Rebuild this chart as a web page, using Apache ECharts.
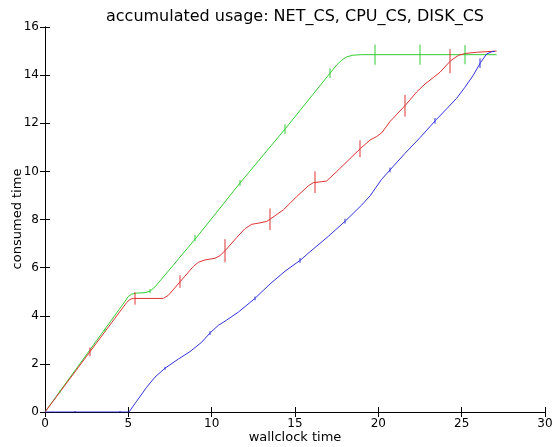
<!DOCTYPE html>
<html>
<head>
<meta charset="utf-8">
<script src="https://cdn.jsdelivr.net/npm/echarts@6/dist/echarts.min.js"></script>
<style>html,body{margin:0;padding:0;background:#fff}#c{width:553px;height:447px}</style>
</head>
<body>
<div id="c"></div>
<script>
const xTicks = [0, 5, 10, 15, 20, 25, 30];
const yTicks = [0, 2, 4, 6, 8, 10, 12, 14, 16];

const netLine = [[0,0],[4.8,4.6],[5.0,4.8],[5.2,4.9],[5.5,4.94],[6.0,4.96],[6.3,5.02],[6.6,5.2],[9.1,7.26],[11.74,9.55],[14.44,11.79],[17.1,14.08],[17.5,14.42],[17.8,14.62],[18.1,14.76],[18.5,14.83],[19.0,14.85],[27.1,14.85]];
const cpuLine = [[0,0],[4.9,4.55],[5.1,4.68],[5.3,4.72],[7.1,4.72],[7.4,4.85],[8.14,5.44],[8.9,6.05],[9.2,6.22],[9.6,6.32],[10.2,6.39],[10.5,6.5],[10.84,6.73],[11.5,7.25],[12.0,7.62],[12.4,7.8],[12.9,7.86],[13.3,7.92],[13.52,8.02],[14.3,8.4],[15.1,8.95],[15.8,9.4],[16.1,9.53],[16.6,9.57],[16.9,9.6],[17.5,9.99],[18.94,10.96],[19.5,11.3],[19.9,11.45],[20.2,11.6],[20.7,12.07],[21.64,12.76],[22.3,13.3],[22.8,13.63],[23.3,13.9],[23.7,14.12],[24.34,14.6],[24.8,14.82],[25.2,14.9],[25.9,14.95],[27.1,15.0]];
const diskLine = [[0,0],[5.04,0],[5.5,0.45],[6.1,1.03],[6.6,1.45],[7.2,1.82],[8.0,2.2],[8.7,2.51],[9.4,2.9],[9.94,3.31],[10.4,3.6],[10.9,3.82],[11.6,4.15],[12.56,4.7],[13.5,5.32],[14.4,5.85],[15.34,6.32],[15.9,6.66],[17.0,7.3],[18.04,7.95],[19.0,8.6],[19.5,8.98],[20.2,9.67],[20.74,10.09],[21.6,10.75],[22.5,11.4],[23.46,12.14],[24.1,12.6],[24.7,13.04],[25.2,13.5],[25.7,14.0],[26.14,14.53],[26.5,14.88],[26.8,14.97],[27.0,14.99]];

// [x, y, halfError]
const netErr = [[0.9,0.85,0.05],[3.6,3.4,0.06],[6.3,5.03,0.08],[9.0,7.23,0.13],[11.7,9.52,0.12],[14.4,11.76,0.2],[17.1,14.08,0.2],[19.8,14.85,0.42],[22.5,14.85,0.42],[25.2,14.85,0.4]];
const cpuErr = [[2.7,2.5,0.18],[5.4,4.72,0.26],[8.1,5.42,0.26],[10.8,6.7,0.48],[13.5,8.01,0.45],[16.2,9.55,0.45],[18.9,10.94,0.35],[21.6,12.73,0.45],[24.3,14.58,0.5]];
const diskErr = [[1.8,0,0.04],[4.5,0,0.04],[7.2,1.82,0.06],[9.9,3.28,0.08],[12.6,4.72,0.08],[15.3,6.3,0.1],[18.0,7.93,0.1],[20.7,10.06,0.1],[23.4,12.1,0.12],[26.1,14.5,0.2]];

const GREEN = '#33cc33', RED = '#dd3333', BLUE = '#3333dd';
const FONT = 'DejaVu Sans';

function lineSeries(data, color) {
  return { type: 'line', data: data, showSymbol: false, smooth: false,
    lineStyle: { color: color, width: 1 }, itemStyle: { color: color }, silent: true, z: 2 };
}
function errSeries(data, color) {
  return { type: 'custom', data: data, z: 3, silent: true, clip: true,
    renderItem: function (params, api) {
      const x = api.value(0), y = api.value(1), e = api.value(2);
      const p1 = api.coord([x, y - e]), p2 = api.coord([x, y + e]);
      return { type: 'line', shape: { x1: p1[0], y1: p1[1], x2: p2[0], y2: p2[1] },
        style: { stroke: color, lineWidth: 1 } };
    }
  };
}

const axisCommon = {
  axisLine: { show: true, lineStyle: { color: '#000', width: 1 } },
  axisTick: { show: true, inside: true, length: 5, lineStyle: { color: '#000' } },
  splitLine: { show: false }
};

const chart = echarts.init(document.getElementById('c'), null, { renderer: 'canvas' });
chart.setOption({
  animation: false,
  backgroundColor: '#fff',
  grid: { left: 45, right: 8, top: 27, bottom: 35, containLabel: false, outerBoundsMode: 'none' },
  graphic: [
    { type: 'text', x: 295, y: 17, style: { text: 'accumulated usage: NET_CS, CPU_CS, DISK_CS', font: '16px ' + FONT, fill: '#000', align: 'center', verticalAlign: 'middle' } },
    { type: 'text', x: 295, y: 438, style: { text: 'wallclock time', font: '13px ' + FONT, fill: '#000', align: 'center', verticalAlign: 'middle' } },
    { type: 'text', x: 18, y: 219, rotation: Math.PI / 2, style: { text: 'consumed time', font: '13px ' + FONT, fill: '#000', align: 'center', verticalAlign: 'middle' } }
  ],
  xAxis: [
    Object.assign({ type: 'value', min: xTicks[0], max: xTicks[xTicks.length - 1], interval: 5, position: 'bottom',
      axisLabel: { color: '#000', fontSize: 12, fontFamily: FONT, margin: 6 } }, axisCommon),
    Object.assign({ type: 'value', min: xTicks[0], max: xTicks[xTicks.length - 1], interval: 5, position: 'top',
      axisLabel: { show: false } }, axisCommon)
  ],
  yAxis: [
    Object.assign({ type: 'value', min: yTicks[0], max: yTicks[yTicks.length - 1], interval: 2, position: 'left',
      axisLabel: { color: '#000', fontSize: 12, fontFamily: FONT, margin: 6 } }, axisCommon),
    Object.assign({ type: 'value', min: yTicks[0], max: yTicks[yTicks.length - 1], interval: 2, position: 'right',
      axisLabel: { show: false } }, axisCommon)
  ],
  series: [
    lineSeries(netLine, GREEN),
    lineSeries(cpuLine, RED),
    lineSeries(diskLine, BLUE),
    errSeries(netErr, GREEN),
    errSeries(cpuErr, RED),
    errSeries(diskErr, BLUE)
  ]
});
</script>
</body>
</html>
